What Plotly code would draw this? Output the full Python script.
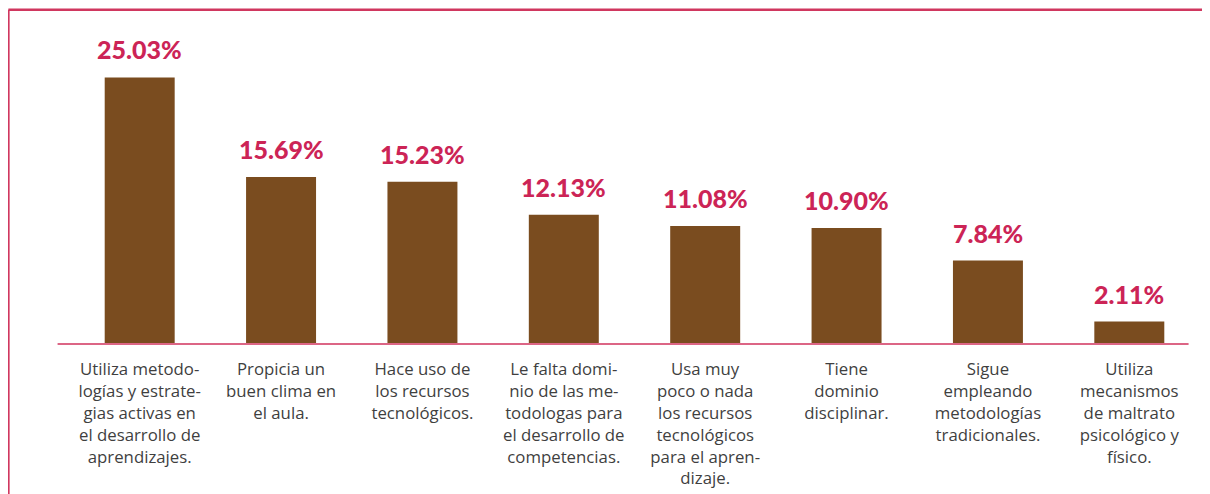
import plotly.graph_objects as go

categories = [
    "Utiliza metodo-<br>logías y estrate-<br>gias activas en<br>el desarrollo de<br>aprendizajes.",
    "Propicia un<br>buen clima en<br>el aula.",
    "Hace uso de<br>los recursos<br>tecnológicos.",
    "Le falta domi-<br>nio de las me-<br>todologas para<br>el desarrollo de<br>competencias.",
    "Usa muy<br>poco o nada<br>los recursos<br>tecnológicos<br>para el apren-<br>dizaje.",
    "Tiene<br>dominio<br>disciplinar.",
    "Sigue<br>empleando<br>metodologías<br>tradicionales.",
    "Utiliza<br>mecanismos<br>de maltrato<br>psicológico y<br>físico.",
]
values = [25.03, 15.69, 15.23, 12.13, 11.08, 10.90, 7.84, 2.11]
value_labels = ["25.03%", "15.69%", "15.23%", "12.13%", "11.08%", "10.90%", "7.84%", "2.11%"]

BAR = "#7a4c1f"
CRIMSON = "#cc2456"
BORDER = "#d0375f"
BASE = "#dc6585"

fig = go.Figure()
fig.add_trace(go.Bar(x=categories, y=values, marker=dict(color=BAR, line=dict(width=0)),
                     hoverinfo="skip"))

for c, v, t in zip(categories, values, value_labels):
    fig.add_annotation(x=c, y=v, text=t, showarrow=False, yanchor="middle", yshift=28,
                       font=dict(family="Lato", size=25, color=CRIMSON, weight=900))

# border lines
fig.add_shape(type="line", xref="paper", yref="paper", x0=-0.0536, x1=1.03, y0=1.032, y1=1.032,
              line=dict(color=BORDER, width=2.5))
fig.add_shape(type="line", xref="paper", yref="paper", x0=-0.0536, x1=-0.0536, y0=1.032, y1=-0.6,
              line=dict(color=BORDER, width=2.5))
# baseline
fig.add_shape(type="line", xref="paper", yref="paper", x0=-0.0101, x1=0.9899, y0=0, y1=0,
              line=dict(color=BASE, width=2))

fig.update_layout(
    width=1210, height=494,
    margin=dict(l=61, r=18, t=12, b=158),
    paper_bgcolor="white", plot_bgcolor="white",
    bargap=0.505,
    showlegend=False,
    xaxis=dict(showline=False, showgrid=False, zeroline=False, ticks="outside", ticklen=10,
               tickcolor="rgba(0,0,0,0)",
               tickfont=dict(family="Open Sans", size=16.8, color="#3f3f3f")),
    yaxis=dict(range=[0, 30.42], visible=False, showgrid=False, zeroline=False),
)

fig.write_html("out.html")
